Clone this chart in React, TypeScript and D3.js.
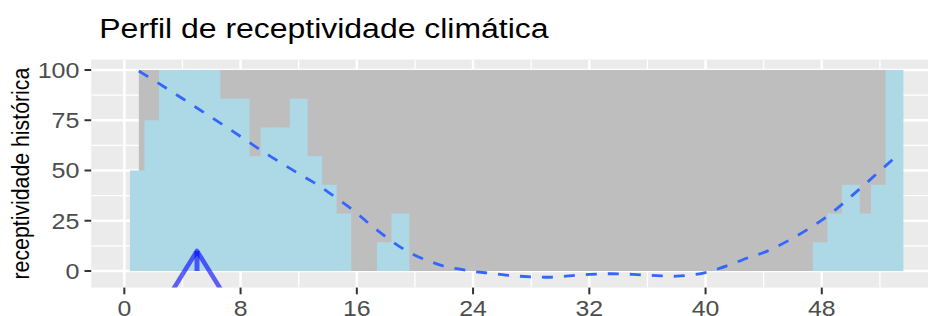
import React from "react";
import * as d3 from "d3";

// ---- data ----
const weeks = [1, 2, 3, 4, 5, 6, 7, 8, 9, 10, 11, 12, 13, 14, 15, 16, 17, 18, 19, 20, 21, 22, 23, 24, 25, 26, 27, 28, 29, 30, 31, 32, 33, 34, 35, 36, 37, 38, 39, 40, 41, 42, 43, 44, 45, 46, 47, 48, 49, 50, 51, 52, 53];
const receptividade = [50, 75, 100, 100, 100, 100, 85.7, 85.7, 57.1, 71.4, 71.4, 85.7, 57.1, 42.9, 28.6, 0, 0, 14.3, 28.6, 0, 0, 0, 0, 0, 0, 0, 0, 0, 0, 0, 0, 0, 0, 0, 0, 0, 0, 0, 0, 0, 0, 0, 0, 0, 0, 0, 0, 14.3, 28.6, 42.9, 28.6, 42.9, 100];
const suavizado = [99.5, 95.0, 90.4, 85.8, 81.1, 76.4, 71.7, 66.9, 62.0, 57.3, 52.8, 48.4, 44.2, 39.4, 34.3, 28.8, 22.6, 17.0, 11.9, 7.8, 4.9, 2.4, 1.0, -0.2, -1.0, -1.8, -2.5, -2.9, -3.1, -2.8, -2.2, -1.7, -1.4, -1.4, -1.7, -2.1, -2.4, -2.6, -2.0, -0.8, 1.4, 4.0, 6.8, 9.2, 12.5, 16.3, 20.6, 25.3, 30.8, 37.0, 43.3, 49.8, 56.2];
const maxReceptividade = 100;
const greyStart = 1;
const greyEnd = 53;
const xTicks = [0, 8, 16, 24, 32, 40, 48];
const xMinor = [4, 12, 20, 28, 36, 44, 52];
const yTicks = [0, 25, 50, 75, 100];
const yMinor = [12.5, 37.5, 62.5, 87.5];
const arrowWeek = 5;
const arrowFrom = 0;
const arrowTo = 10;
const title = "Perfil de receptividade climática";
const yLabel = "receptividade histórica";

// ---- layout ----
const W = 928;
const H = 316;
const panel = { left: 91.2, right: 942.1, top: 59.6, bottom: 287.6 };
const barWidth = 1.23;
const sx = 1.15; // horizontal stretch of the reference's text
const font = "'Liberation Sans', Arial, Helvetica, sans-serif";

const x = d3.scaleLinear().domain([-2.28, 56.28]).range([panel.left, panel.right]);
const y = d3.scaleLinear().domain([-8.26, 105.16]).range([panel.bottom, panel.top]);

export default function App() {
  const line = d3
    .line<number>()
    .x((_, i) => x(weeks[i]))
    .y((d) => y(d))
    .curve(d3.curveCatmullRom.alpha(0.5));

  const tipX = x(arrowWeek);
  const tipY = y(arrowTo);
  const armLen = 75;
  const ax = -0.526 * armLen;
  const ay = 0.851 * armLen;
  const clipW = Math.min(panel.right, W) - panel.left;

  return (
    <svg
      width={W}
      height={H}
      viewBox={`0 0 ${W} ${H}`}
      style={{ position: "absolute", left: 0, top: 0, background: "#ffffff" }}
      fontFamily={font}
    >
      <defs>
        <clipPath id="panelClip">
          <rect x={panel.left} y={panel.top} width={clipW} height={panel.bottom - panel.top} />
        </clipPath>
      </defs>
      <rect x={0} y={0} width={W} height={H} fill="#ffffff" />
      {/* panel */}
      <rect x={panel.left} y={panel.top} width={panel.right - panel.left} height={panel.bottom - panel.top} fill="#EBEBEB" />
      <g clipPath="url(#panelClip)">
        {yMinor.map((t) => (
          <line key={"ym" + t} x1={panel.left} x2={panel.right} y1={y(t)} y2={y(t)} stroke="#ffffff" strokeWidth={1.3} />
        ))}
        {xMinor.map((t) => (
          <line key={"xm" + t} y1={panel.top} y2={panel.bottom} x1={x(t)} x2={x(t)} stroke="#ffffff" strokeWidth={1.3} />
        ))}
        {yTicks.map((t) => (
          <line key={"yM" + t} x1={panel.left} x2={panel.right} y1={y(t)} y2={y(t)} stroke="#ffffff" strokeWidth={2.5} />
        ))}
        {xTicks.map((t) => (
          <line key={"xM" + t} y1={panel.top} y2={panel.bottom} x1={x(t)} x2={x(t)} stroke="#ffffff" strokeWidth={2.5} />
        ))}

        {/* grey background area */}
        <rect
          x={x(greyStart)}
          y={y(maxReceptividade)}
          width={x(greyEnd) - x(greyStart)}
          height={y(0) - y(maxReceptividade)}
          fill="#BEBEBE"
        />

        {/* blue bars */}
        {weeks.map((w, i) =>
          receptividade[i] > 0 ? (
            <rect
              key={"b" + w}
              x={x(w - barWidth / 2)}
              y={y(receptividade[i])}
              width={x(w + barWidth / 2) - x(w - barWidth / 2)}
              height={y(0) - y(receptividade[i])}
              fill="#ADD8E6"
            />
          ) : null
        )}

        {/* smooth line */}
        <path
          d={line(suavizado) || ""}
          fill="none"
          stroke="#3366FF"
          strokeWidth={2.8}
          strokeDasharray="11 11"
        />

        {/* arrow */}
        <line
          x1={tipX}
          x2={tipX}
          y1={y(arrowFrom)}
          y2={tipY}
          stroke="#0000FF"
          strokeOpacity={0.6}
          strokeWidth={5}
        />
        <path
          d={`M${tipX + ax},${tipY + ay}L${tipX},${tipY}L${tipX - ax},${tipY + ay}`}
          fill="none"
          stroke="#0000FF"
          strokeOpacity={0.6}
          strokeWidth={4.6}
          strokeLinejoin="round"
        />
      </g>

      {/* axes ticks */}
      {xTicks.map((t) => (
        <line key={"xt" + t} x1={x(t)} x2={x(t)} y1={panel.bottom} y2={panel.bottom + 6.7} stroke="#333333" strokeWidth={2} />
      ))}
      {yTicks.map((t) => (
        <line key={"yt" + t} x1={panel.left - 6.7} x2={panel.left} y1={y(t)} y2={y(t)} stroke="#333333" strokeWidth={2} />
      ))}

      {/* tick labels */}
      {xTicks.map((t) => (
        <text
          key={"xl" + t}
          transform={`translate(${x(t)},315.6) scale(${sx},1)`}
          textAnchor="middle"
          fontSize={21.6}
          fill="#4D4D4D"
        >
          {t}
        </text>
      ))}
      {yTicks.map((t) => (
        <text
          key={"yl" + t}
          transform={`translate(79.5,${y(t) + 7.8}) scale(${sx},1)`}
          textAnchor="end"
          fontSize={21.8}
          fill="#4D4D4D"
        >
          {t}
        </text>
      ))}

      {/* y axis title */}
      <text
        transform={`translate(29,${(panel.top + panel.bottom) / 2}) scale(${sx},1) rotate(-90)`}
        textAnchor="middle"
        fontSize={21.3}
        fill="#000000"
      >
        {yLabel}
      </text>

      {/* title */}
      <text transform={`translate(99.3,38) scale(${sx},1)`} fontSize={27.8} fill="#000000">
        {title}
      </text>
    </svg>
  );
}
